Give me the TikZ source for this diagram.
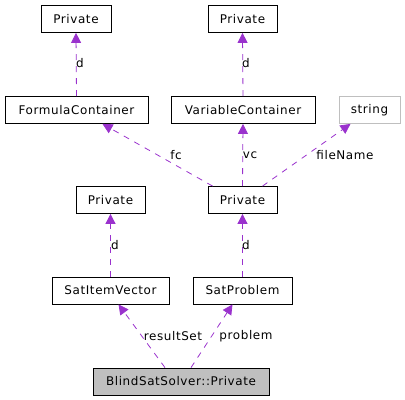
\documentclass[tikz,border=0pt]{standalone}
\usepackage{fontspec}
\setmainfont[LetterSpace=5]{DejaVu Sans}
\usetikzlibrary{arrows.meta}
\definecolor{edgecol}{HTML}{9A32CD}
\definecolor{graybox}{HTML}{BFBFBF}
\tikzset{
  box/.style={draw=black, line width=0.8bp, minimum height=27bp, inner sep=0pt, font=\fontsize{12}{14}\selectfont},
  usage/.style={draw=edgecol, line width=0.8bp, dash pattern=on 6bp off 6bp, -{Triangle[length=10bp,width=10bp,fill=edgecol]}},
  lbl/.style={font=\fontsize{12}{14}\selectfont, inner sep=0pt}
}
\begin{document}
\begin{tikzpicture}[x=1bp,y=-1bp]
\useasboundingbox (0,0) rectangle (405,400);
\node[box, minimum width=70bp] (p1) at (76,19) {Private};
\node[box, minimum width=69bp] (p2) at (242.5,19) {Private};
\node[box, minimum width=143bp] (fc) at (76.5,110) {FormulaContainer};
\node[box, minimum width=144bp] (vc) at (243,110) {VariableContainer};
\node[box, draw=graybox, minimum width=61bp] (str) at (369.5,110) {string};
\node[box, minimum width=69bp] (p3) at (110.5,200) {Private};
\node[box, minimum width=69bp] (p4) at (242.5,200) {Private};
\node[box, minimum width=117bp] (siv) at (110.5,290.5) {SatItemVector};
\node[box, minimum width=99bp] (sp) at (242.5,290.5) {SatProblem};
\node[box, fill=graybox, minimum width=176bp] (bss) at (181,381.5) {BlindSatSolver::Private};

\draw[usage] (fc.north) -- (p1.south);
\draw[usage] (vc.north) -- (p2.south);
\draw[usage] ([xshift=5bp]p4.north west) -- ([xshift=26bp]fc.south);
\draw[usage] (p4.north) -- (vc.south);
\draw[usage] ([xshift=20bp]p4.north) -- ([xshift=-19bp]str.south);
\draw[usage] (siv.north) -- (p3.south);
\draw[usage] (sp.north) -- (p4.south);
\draw[usage] ([xshift=-16bp]bss.north) -- ([xshift=8bp]siv.south);
\draw[usage] ([xshift=10bp]bss.north) -- ([xshift=-10bp]sp.south);

\node[lbl] (ld1) at (80,63) {d};
\node[lbl] (ld2) at (246,63) {d};
\node[lbl] (lfc) at (176,155) {fc};
\node[lbl] (lvc) at (250,155) {vc};
\node[lbl] (lfn) at (345,155) {fileName};
\node[lbl] (ld3) at (115,245) {d};
\node[lbl] (ld4) at (246,245) {d};
\node[lbl] (lrs) at (173,336) {resultSet};
\node[lbl] (lpr) at (246,336) {problem};
\end{tikzpicture}
\end{document}
